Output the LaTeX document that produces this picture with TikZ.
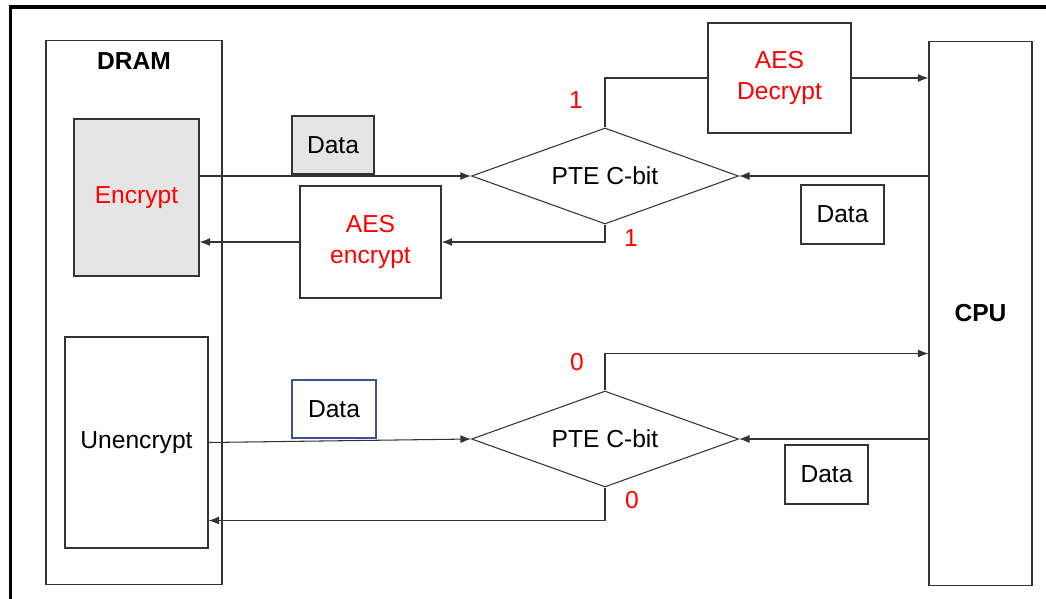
\documentclass[tikz,border=0pt]{standalone}
\usepackage{fontspec}
\setmainfont{Liberation Sans}
\usetikzlibrary{arrows.meta, positioning, shapes.geometric}

\definecolor{boxblue}{RGB}{60,84,150}

\begin{document}
\begin{tikzpicture}[
            x = 0.02cm,
            y = -0.02cm,
            box/.style = {
                rectangle,
                draw            = black!80,
                line width      = 0.6pt,
                align           = center,
                inner sep       = 0pt,
                font            = \fontsize{14}{18}\selectfont
            },
            cbit/.style = {
                diamond,
                aspect          = 2.8,
                draw            = black!80,
                line width      = 0.6pt,
                inner sep       = 0pt,
                minimum width   = 5.34cm,
                minimum height  = 1.92cm,
                font            = \fontsize{14}{18}\selectfont
            },
            bitlabel/.style = {
                text = red,
                font = \fontsize{14}{18}\selectfont
            },
            flow/.style = {
                -{Latex[length=6pt, width=4.5pt]},
                line width = 0.6pt,
                draw       = black!80
            }
        ]

            \useasboundingbox (0,0) rectangle (1046,599);
            \draw[line width=2pt] (10.7,599) -- (10.7,7) -- (1046,7);

            \node[box, minimum width=3.52cm, minimum height=10.9cm] (dram) at (134,312.5) {};
            \node[font=\fontsize{14}{18}\selectfont\bfseries] (dramlabel) at (134,61) {DRAM};
            \node[box, fill=black!10, text=red, minimum width=2.5cm, minimum height=3.14cm]
                (enc) at (136.5,197.5) {Encrypt};
            \node[box, minimum width=2.86cm, minimum height=4.22cm] (unenc) at (136.5,442.5) {Unencrypt};

            \node[box, font=\fontsize{14}{18}\selectfont\bfseries, minimum width=2.06cm, minimum height=10.9cm]
                (cpu) at (980.5,313.5) {CPU};

            \node[cbit] (cbit1) at (605,176) {PTE C-bit};
            \node[cbit] (cbit0) at (605,439) {PTE C-bit};

            \node[box, text=red, minimum width=2.86cm, minimum height=2.2cm]  (aesdec) at (779.5,78)  {AES\\Decrypt};
            \node[box, text=red, minimum width=2.82cm, minimum height=2.24cm] (aesenc) at (370.5,242) {AES\\encrypt};

            \node[box, fill=black!10, minimum width=1.64cm, minimum height=1.16cm] (data1) at (333,145)     {Data};
            \node[box, minimum width=1.66cm, minimum height=1.18cm]                (data2) at (842.5,214.5) {Data};
            \node[box, draw=boxblue, minimum width=1.68cm, minimum height=1.16cm]  (data3) at (334,409)     {Data};
            \node[box, minimum width=1.66cm, minimum height=1.18cm]                (data4) at (826.5,474.5) {Data};

            \node[bitlabel] (one1)  at (576,100) {1};
            \node[bitlabel] (one2)  at (631,238) {1};
            \node[bitlabel] (zero1) at (577,362) {0};
            \node[bitlabel] (zero2) at (632,500) {0};

            \draw[flow] (cbit1.west -| enc.east) -- (cbit1.west);
            \draw[flow] (cbit1.east -| cpu.west) -- (cbit1.east);
            \draw[flow, -] (cbit1.north) |- (aesdec.west);
            \draw[flow] (aesdec.east) -- (aesdec.east -| cpu.west);
            \draw[flow] (cbit1.south) |- (aesenc.east);
            \draw[flow] (aesenc.west) -- (aesenc.west -| enc.east);

            \draw[flow] (unenc.east) -- (cbit0.west);
            \draw[flow] (cbit0.east -| cpu.west) -- (cbit0.east);
            \draw[flow]
                (cbit0.north) -- ++(0,-37) coordinate (up0)
                -- (up0 -| cpu.west);
            \draw[flow]
                (cbit0.south) -- ++(0,33) coordinate (down0)
                -- (down0 -| unenc.east);
        \end{tikzpicture}
\end{document}
